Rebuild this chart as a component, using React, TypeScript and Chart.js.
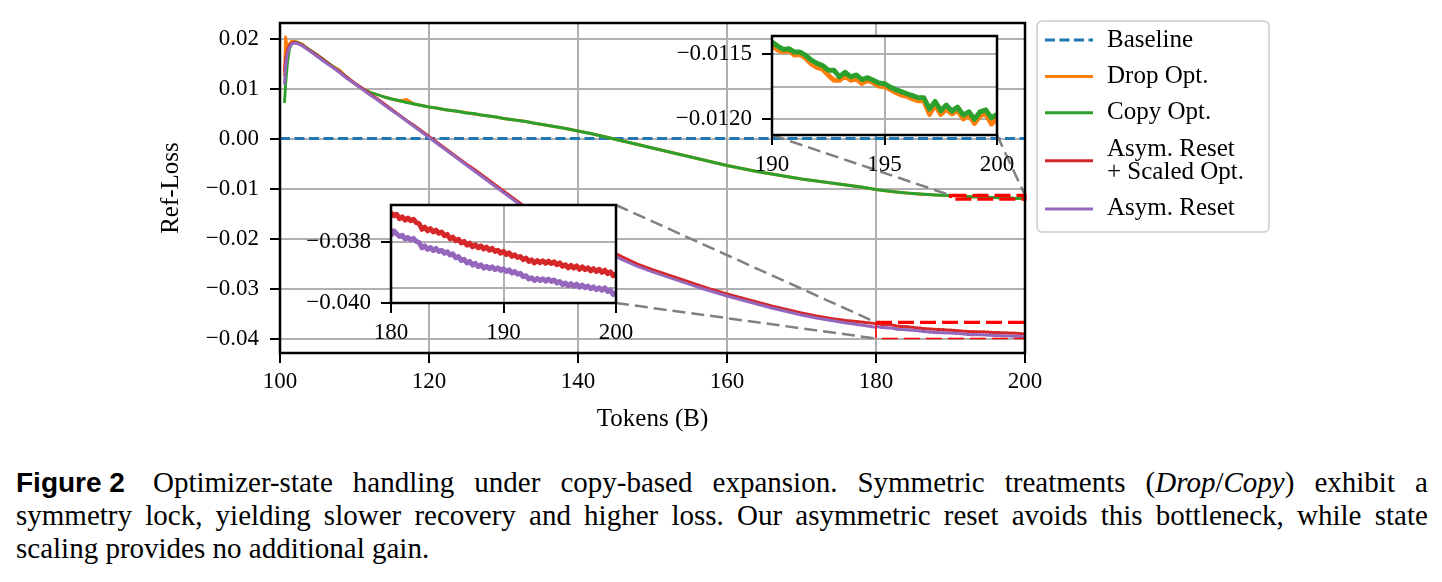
import React, { useEffect, useRef } from "react";
import { Chart, registerables } from "chart.js";

Chart.register(...registerables);

// ---------------------------------------------------------------------------
// Data: Ref-Loss against training tokens (billions)
// ---------------------------------------------------------------------------

// Shared sampling of the early / middle part of every run
const tokensHead = [
  100.6, 100.75, 101, 101.25, 101.5, 101.75, 102, 102.5, 103, 103.5,
  104, 105, 106, 107, 108, 109, 110, 111, 112, 113, 114, 115, 116, 117, 118, 119,
  120, 121, 122, 123, 124, 125, 126, 127, 128, 129, 130, 131, 132, 133, 134,
  136, 138, 140, 142, 144, 146, 148, 150, 152, 154, 156, 158,
  160, 162, 164, 166, 168, 170, 172, 174, 176, 178,
];

// Dense sampling of the last 20B tokens for the reset runs
const tokensTailReset = [
  180, 180.25, 180.5, 180.75, 181, 181.25, 181.5, 181.75,
  182, 182.25, 182.5, 182.75, 183, 183.25, 183.5, 183.75,
  184, 184.25, 184.5, 184.75, 185, 185.25, 185.5, 185.75,
  186, 186.25, 186.5, 186.75, 187, 187.25, 187.5, 187.75,
  188, 188.25, 188.5, 188.75, 189, 189.25, 189.5, 189.75,
  190, 190.25, 190.5, 190.75, 191, 191.25, 191.5, 191.75,
  192, 192.25, 192.5, 192.75, 193, 193.25, 193.5, 193.75,
  194, 194.25, 194.5, 194.75, 195, 195.25, 195.5, 195.75,
  196, 196.25, 196.5, 196.75, 197, 197.25, 197.5, 197.75,
  198, 198.25, 198.5, 198.75, 199, 199.25, 199.5, 199.75,
  200,
];

// Tail sampling for the symmetric (drop / copy) runs
const tokensTailOpt = [
  180, 181, 182, 183, 184, 185, 186, 187, 188, 189,
  190, 190.25, 190.5, 190.75, 191, 191.25, 191.5, 191.75,
  192, 192.25, 192.5, 192.75, 193, 193.25, 193.5, 193.75,
  194, 194.25, 194.5, 194.75, 195, 195.25, 195.5, 195.75,
  196, 196.25, 196.5, 196.75, 197, 197.25, 197.5, 197.75,
  198, 198.25, 198.5, 198.75, 199, 199.25, 199.5, 199.75,
  200,
];

const baselineTokens = [100, 200];
const baselineLoss = [0, 0];

const dropOptHead = [
  0.0125, 0.0203, 0.0180, 0.0189, 0.0194, 0.0194, 0.0194, 0.0192, 0.0189, 0.0182,
  0.0177, 0.0167, 0.0156, 0.0145, 0.0137, 0.0122, 0.0110, 0.0100, 0.0093, 0.0088, 0.0083, 0.0079, 0.0075, 0.0078, 0.0069, 0.0066,
  0.0063, 0.0061, 0.0058, 0.0056, 0.0054, 0.0052, 0.0049, 0.0047, 0.0045, 0.0043, 0.0040, 0.0038, 0.0036, 0.0034, 0.0031,
  0.0026, 0.0021, 0.0015, 0.0009, 0.0002, -0.0005, -0.0012, -0.0019, -0.0026, -0.0033, -0.0040, -0.0047,
  -0.0054, -0.0060, -0.0066, -0.0071, -0.0076, -0.0081, -0.0085, -0.0089, -0.0093, -0.0097,
];
const dropOptTail = [
  -0.01022, -0.01042, -0.01061, -0.01076, -0.01091, -0.01102, -0.01114, -0.01123, -0.01132, -0.01139,
  -0.011430, -0.011465, -0.011480, -0.011470, -0.011505, -0.011500, -0.011530, -0.011575,
  -0.011600, -0.011615, -0.011660, -0.011700, -0.011700, -0.011665, -0.011700, -0.011690,
  -0.011725, -0.011700, -0.011720, -0.011745, -0.011750, -0.011770, -0.011795, -0.011815,
  -0.011825, -0.011845, -0.011860, -0.011860, -0.011965, -0.011890, -0.011965, -0.011925,
  -0.011960, -0.011935, -0.012000, -0.011970, -0.012035, -0.011975, -0.011960, -0.012040,
  -0.012000,
];

const copyOptHead = [
  0.0071, 0.0108, 0.0152, 0.0178, 0.0188, 0.0192, 0.0193, 0.0191, 0.0187, 0.0182,
  0.0177, 0.0167, 0.0156, 0.0145, 0.0134, 0.0122, 0.0110, 0.0100, 0.0093, 0.0088, 0.0083, 0.0079, 0.0076, 0.0072, 0.0069, 0.0066,
  0.0063, 0.0061, 0.0058, 0.0056, 0.0054, 0.0051, 0.0050, 0.0047, 0.0045, 0.0043, 0.0040, 0.0038, 0.0036, 0.0034, 0.0031,
  0.0026, 0.0021, 0.0015, 0.0009, 0.0002, -0.0005, -0.0012, -0.0019, -0.0026, -0.0033, -0.0040, -0.0047,
  -0.0054, -0.0060, -0.0066, -0.0071, -0.0076, -0.0081, -0.0085, -0.0089, -0.0093, -0.0097,
];
const copyOptTail = [
  -0.01020, -0.01040, -0.01058, -0.01074, -0.01088, -0.01100, -0.01111, -0.01121, -0.01129, -0.01136,
  -0.011404, -0.011435, -0.011461, -0.011456, -0.011482, -0.011482, -0.011508, -0.011544,
  -0.011570, -0.011586, -0.011622, -0.011622, -0.011674, -0.011638, -0.011674, -0.011659,
  -0.011695, -0.011680, -0.011701, -0.011721, -0.011727, -0.011753, -0.011773, -0.011789,
  -0.011805, -0.011820, -0.011836, -0.011836, -0.011924, -0.011865, -0.011935, -0.011893,
  -0.011940, -0.011909, -0.011971, -0.011945, -0.012003, -0.011945, -0.011930, -0.011992,
  -0.011966,
];

const scaledResetHead = [
  0.0134, 0.0158, 0.0177, 0.0186, 0.0190, 0.0192, 0.0192, 0.0190, 0.0186, 0.0181,
  0.0176, 0.0166, 0.0155, 0.0144, 0.0133, 0.0122, 0.0111, 0.0101, 0.0090, 0.0080, 0.0069, 0.0058, 0.0047, 0.0036, 0.0026, 0.0015,
  0.0004, -0.0007, -0.0018, -0.0029, -0.0040, -0.0051, -0.0061, -0.0072, -0.0083, -0.0094, -0.0105, -0.0116, -0.0127, -0.0138, -0.0148,
  -0.0167, -0.0185, -0.0200, -0.0213, -0.0222, -0.0237, -0.0251, -0.0262, -0.0272, -0.0282, -0.0292, -0.0302,
  -0.0311, -0.0319, -0.0327, -0.0335, -0.0342, -0.0349, -0.0355, -0.0360, -0.0364, -0.0367,
];
const scaledResetTail = [
  -0.03702, -0.03712, -0.03708, -0.03722, -0.03716, -0.03727, -0.03720, -0.03729,
  -0.03724, -0.03735, -0.03738, -0.03757, -0.03750, -0.03762, -0.03755, -0.03766,
  -0.03760, -0.03770, -0.03766, -0.03778, -0.03774, -0.03788, -0.03783, -0.03795,
  -0.03790, -0.03802, -0.03797, -0.03809, -0.03803, -0.03815, -0.03808, -0.03818,
  -0.03812, -0.03822, -0.03816, -0.03826, -0.03820, -0.03830, -0.03826, -0.03836,
  -0.03830, -0.03840, -0.03835, -0.03846, -0.03841, -0.03850, -0.03847, -0.03857,
  -0.03852, -0.03863, -0.03858, -0.03868, -0.03860, -0.03867, -0.03861, -0.03869,
  -0.03862, -0.03870, -0.03864, -0.03874, -0.03868, -0.03879, -0.03874, -0.03884,
  -0.03876, -0.03885, -0.03878, -0.03889, -0.03881, -0.03890, -0.03884, -0.03894,
  -0.03887, -0.03896, -0.03889, -0.03899, -0.03892, -0.03903, -0.03897, -0.03910,
  -0.03904,
];

const asymResetHead = [
  0.0108, 0.0145, 0.0170, 0.0182, 0.0188, 0.0190, 0.0191, 0.0189, 0.0185, 0.0180,
  0.0175, 0.0164, 0.0153, 0.0143, 0.0132, 0.0120, 0.0110, 0.0099, 0.0088, 0.0078, 0.0067, 0.0056, 0.0046, 0.0035, 0.0024, 0.0013,
  0.0002, -0.0009, -0.0020, -0.0031, -0.0042, -0.0053, -0.0064, -0.0075, -0.0086, -0.0097, -0.0108, -0.0119, -0.0130, -0.0141, -0.0151,
  -0.0171, -0.0189, -0.0205, -0.0218, -0.0228, -0.0243, -0.0256, -0.0267, -0.0277, -0.0287, -0.0297, -0.0306,
  -0.0315, -0.0323, -0.0331, -0.0339, -0.0346, -0.0353, -0.0359, -0.0364, -0.0369, -0.0373,
];
const asymResetTail = [
  -0.03778, -0.03762, -0.03772, -0.03781, -0.03777, -0.03789, -0.03784, -0.03792,
  -0.03787, -0.03797, -0.03801, -0.03818, -0.03812, -0.03823, -0.03817, -0.03827,
  -0.03820, -0.03830, -0.03826, -0.03836, -0.03831, -0.03842, -0.03838, -0.03851,
  -0.03847, -0.03860, -0.03856, -0.03868, -0.03863, -0.03875, -0.03869, -0.03880,
  -0.03874, -0.03885, -0.03879, -0.03887, -0.03881, -0.03890, -0.03884, -0.03893,
  -0.03887, -0.03896, -0.03891, -0.03901, -0.03896, -0.03905, -0.03902, -0.03913,
  -0.03910, -0.03921, -0.03917, -0.03926, -0.03919, -0.03926, -0.03920, -0.03928,
  -0.03921, -0.03929, -0.03924, -0.03934, -0.03929, -0.03939, -0.03934, -0.03943,
  -0.03936, -0.03945, -0.03938, -0.03948, -0.03941, -0.03950, -0.03944, -0.03953,
  -0.03947, -0.03956, -0.03950, -0.03958, -0.03950, -0.03962, -0.03957, -0.03972,
  -0.03966,
];

// Axis ticks
const xTicksMain = [100, 120, 140, 160, 180, 200];
const yTicksMain = [-0.04, -0.03, -0.02, -0.01, 0, 0.01, 0.02];
const xTicksCopyInset = [190, 195, 200];
const yTicksCopyInset = [-0.012, -0.0115];
const yGridCopyInset = [-0.01175];
const xTicksResetInset = [180, 190, 200];
const yTicksResetInset = [-0.04, -0.038];
const yGridResetInset = [-0.0395];

// Axis limits
const mainXRange = [100, 200];
const mainYRange = [-0.0429, 0.0231];
const copyInsetXRange = [190, 200];
const copyInsetYRange = [-0.012125, -0.011357];
const resetInsetXRange = [180, 200];
const resetInsetYRange = [-0.04, -0.03677];

// ---------------------------------------------------------------------------
// Layout and styling
// ---------------------------------------------------------------------------

const SERIF = '"Liberation Serif", "Times New Roman", serif';
const SANS = '"Liberation Sans", Arial, sans-serif';
const GRID_COLOR = "#b0b0b0";
const TICK_FONT = { family: SERIF, size: 23 };
const LABEL_FONT = { family: SERIF, size: 25 };

const FIGURE = { width: 1442, height: 582 };
const MAIN = { height: 440, left: 280, top: 23, right: 1025, bottom: 353 };
const COPY_INSET = { left: 772, top: 36, width: 225, height: 99 };
const RESET_INSET = { left: 391, top: 205, width: 225, height: 98 };
const INSET_PAD = { left: 130, top: 14, right: 26, bottom: 48 };

const LEGEND = {
  left: 1037, top: 21, width: 232, height: 211,
  sampleStart: 1045, sampleEnd: 1093, textX: 1107,
  firstY: 40, rowGap: 36.4, lineGap: 23.3,
};

const CAPTION = { left: 16, top: 466, width: 1412, lineHeight: 33, fontSize: 29, labelSize: 28 };

const COLORS = {
  baseline: "#1f77b4",
  drop: "#ff7f0e",
  copy: "#2ca02c",
  scaled: "#d62728",
  asym: "#9467bd",
};

const pts = (xs: number[], ys: number[]) => xs.map((x, i) => ({ x, y: ys[i] }));

function tickLabel(digits: number) {
  return (value: number | string) => {
    const v = Number(value);
    return (Math.abs(v) < 1e-12 ? 0 : v).toFixed(digits).replace("-", "\u2212");
  };
}

// Pin an axis box to a fixed thickness so the plot area lands where intended
function lockAxis(size: number) {
  return (scale: any) => {
    if (scale.isHorizontal()) scale.height = size;
    else scale.width = size;
    scale.paddingLeft = 0;
    scale.paddingRight = 0;
    scale.paddingTop = 0;
    scale.paddingBottom = 0;
  };
}

function strokeSegment(ctx: CanvasRenderingContext2D, x0: number, y0: number, x1: number, y1: number) {
  ctx.beginPath();
  ctx.moveTo(x0, y0);
  ctx.lineTo(x1, y1);
  ctx.stroke();
}

// Zoom markers, connectors, frame and legend of the main axes
const mainOverlay = {
  id: "mainOverlay",
  afterDatasetsDraw(chart: any) {
    const { ctx, chartArea: a, scales } = chart;
    const sx = scales.x;
    const sy = scales.y;
    ctx.save();

    const cx0 = sx.getPixelForValue(copyInsetXRange[0]);
    const cx1 = sx.getPixelForValue(copyInsetXRange[1]);
    const cyTop = sy.getPixelForValue(copyInsetYRange[1]);
    const cyBot = sy.getPixelForValue(copyInsetYRange[0]);
    const rx0 = sx.getPixelForValue(resetInsetXRange[0]);
    const rx1 = sx.getPixelForValue(resetInsetXRange[1]);
    const ryTop = sy.getPixelForValue(resetInsetYRange[1]);
    const ryBot = sy.getPixelForValue(resetInsetYRange[0]);

    // connector lines from inset corners to the zoomed regions
    ctx.strokeStyle = "#808080";
    ctx.lineWidth = 2.5;
    ctx.setLineDash([13, 6]);
    const cb = COPY_INSET.top + COPY_INSET.height;
    strokeSegment(ctx, COPY_INSET.left, cb, cx0, cyTop);
    strokeSegment(ctx, COPY_INSET.left + COPY_INSET.width, cb, cx1, cyTop);
    const rr = RESET_INSET.left + RESET_INSET.width;
    strokeSegment(ctx, rr, RESET_INSET.top, rx0, ryTop);
    strokeSegment(ctx, rr, RESET_INSET.top + RESET_INSET.height, rx0, ryBot);

    // zoomed regions
    ctx.strokeStyle = "#ff0000";
    ctx.setLineDash([16, 6]);
    ctx.lineWidth = 3.2;
    ctx.strokeRect(cx0, cyTop, cx1 - cx0, cyBot - cyTop);
    strokeSegment(ctx, rx0, ryTop, rx1, ryTop);
    ctx.lineWidth = 1.5;
    ctx.beginPath();
    ctx.moveTo(rx0, ryTop);
    ctx.lineTo(rx0, ryBot);
    ctx.lineTo(rx1, ryBot);
    ctx.stroke();

    // axes frame
    ctx.setLineDash([]);
    ctx.strokeStyle = "#000";
    ctx.lineWidth = 2.5;
    ctx.strokeRect(a.left, a.top, a.right - a.left, a.bottom - a.top);
    ctx.restore();
  },
  afterDraw(chart: any) {
    const { ctx } = chart;
    ctx.save();
    ctx.beginPath();
    ctx.roundRect(LEGEND.left, LEGEND.top, LEGEND.width, LEGEND.height, 5);
    ctx.fillStyle = "rgba(255,255,255,0.85)";
    ctx.fill();
    ctx.strokeStyle = "#cccccc";
    ctx.lineWidth = 1.5;
    ctx.stroke();

    ctx.font = `${LABEL_FONT.size}px ${SERIF}`;
    ctx.textBaseline = "middle";
    ctx.textAlign = "left";
    let y = LEGEND.firstY;
    chart.data.datasets.forEach((ds: any) => {
      const lines = String(ds.label).split("\n");
      const mid = y + ((lines.length - 1) * LEGEND.lineGap) / 2;
      ctx.strokeStyle = ds.borderColor;
      ctx.lineWidth = 3;
      ctx.setLineDash(ds.borderDash || []);
      ctx.beginPath();
      ctx.moveTo(LEGEND.sampleStart, mid);
      ctx.lineTo(LEGEND.sampleEnd, mid);
      ctx.stroke();
      ctx.setLineDash([]);
      ctx.fillStyle = "#000";
      lines.forEach((t, i) => ctx.fillText(t, LEGEND.textX, y + i * LEGEND.lineGap));
      y += (lines.length - 1) * LEGEND.lineGap + LEGEND.rowGap;
    });
    ctx.restore();
  },
};

// White plot background and black frame for the zoom insets
const insetFrame = {
  id: "insetFrame",
  beforeDraw(chart: any) {
    const { ctx, chartArea: a } = chart;
    ctx.save();
    ctx.fillStyle = "#fff";
    ctx.fillRect(a.left, a.top, a.right - a.left, a.bottom - a.top);
    ctx.restore();
  },
  afterDatasetsDraw(chart: any) {
    const { ctx, chartArea: a } = chart;
    ctx.save();
    ctx.strokeStyle = "#000";
    ctx.lineWidth = 2.5;
    ctx.strokeRect(a.left, a.top, a.right - a.left, a.bottom - a.top);
    ctx.restore();
  },
};

function lineDataset(label: string, color: string, data: any[], order: number, width: number, dash?: number[]) {
  return {
    label,
    data,
    borderColor: color,
    backgroundColor: color,
    borderWidth: width,
    borderDash: dash,
    borderJoinStyle: "round",
    pointRadius: 0,
    tension: 0,
    fill: false,
    order,
  };
}

function axis(opts: {
  range: number[];
  ticks: number[];
  gridOnly?: number[];
  fmt: (v: any) => string;
  size: number;
  padding: number;
  title?: { text: string; padding: any };
}) {
  const gridOnly = opts.gridOnly || [];
  return {
    type: "linear",
    min: opts.range[0],
    max: opts.range[1],
    afterBuildTicks: (s: any) => {
      s.ticks = [...opts.ticks, ...gridOnly].sort((a, b) => a - b).map((value) => ({ value }));
    },
    afterFit: lockAxis(opts.size),
    border: { display: false },
    grid: {
      color: GRID_COLOR,
      lineWidth: 2,
      tickLength: 10,
      tickWidth: 2,
      tickColor: (c: any) => (c.tick && gridOnly.includes(c.tick.value) ? "rgba(0,0,0,0)" : "#000"),
    },
    ticks: {
      color: "#000",
      font: TICK_FONT,
      padding: opts.padding,
      maxRotation: 0,
      autoSkip: false,
      callback: (v: any) => (gridOnly.includes(Number(v)) ? "" : opts.fmt(v)),
    },
    title: opts.title
      ? { display: true, text: opts.title.text, color: "#000", font: LABEL_FONT, padding: opts.title.padding }
      : { display: false },
  };
}

const baseOptions = {
  animation: false,
  responsive: false,
  events: [],
  plugins: { legend: { display: false }, tooltip: { enabled: false } },
};

function mainConfig(): any {
  return {
    type: "line",
    data: {
      datasets: [
        lineDataset("Baseline", COLORS.baseline, pts(baselineTokens, baselineLoss), 4, 3, [10, 4.5]),
        lineDataset("Drop Opt.", COLORS.drop, [...pts(tokensHead, dropOptHead), ...pts(tokensTailOpt, dropOptTail)], 3, 2.9),
        lineDataset("Copy Opt.", COLORS.copy, [...pts(tokensHead, copyOptHead), ...pts(tokensTailOpt, copyOptTail)], 2, 2.9),
        lineDataset("Asym. Reset\n+ Scaled Opt.", COLORS.scaled, [...pts(tokensHead, scaledResetHead), ...pts(tokensTailReset, scaledResetTail)], 1, 2.9),
        lineDataset("Asym. Reset", COLORS.asym, [...pts(tokensHead, asymResetHead), ...pts(tokensTailReset, asymResetTail)], 0, 2.9),
      ],
    },
    options: {
      ...baseOptions,
      layout: { padding: { left: 0, top: MAIN.top, right: FIGURE.width - MAIN.right, bottom: 0 } },
      scales: {
        x: axis({
          range: mainXRange, ticks: xTicksMain, fmt: (v) => String(v),
          size: MAIN.height - MAIN.bottom, padding: 5,
          title: { text: "Tokens (B)", padding: { top: 0, bottom: 6 } },
        }),
        y: axis({
          range: mainYRange, ticks: yTicksMain, fmt: tickLabel(2),
          size: MAIN.left, padding: 11,
          title: { text: "Ref-Loss", padding: { top: 156, bottom: 0 } },
        }),
      },
    },
    plugins: [mainOverlay],
  };
}

function insetConfig(datasets: any[], xr: number[], yr: number[], xt: number[], yt: number[], yg: number[], digits: number): any {
  return {
    type: "line",
    data: { datasets },
    options: {
      ...baseOptions,
      layout: { padding: { left: 0, top: INSET_PAD.top, right: INSET_PAD.right, bottom: 0 } },
      scales: {
        x: axis({ range: xr, ticks: xt, fmt: (v) => String(v), size: INSET_PAD.bottom, padding: 6 }),
        y: axis({ range: yr, ticks: yt, gridOnly: yg, fmt: tickLabel(digits), size: INSET_PAD.left, padding: 10 }),
      },
    },
    plugins: [insetFrame],
  };
}

function insetStyle(box: { left: number; top: number; width: number; height: number }) {
  const w = INSET_PAD.left + box.width + INSET_PAD.right;
  const h = INSET_PAD.top + box.height + INSET_PAD.bottom;
  return {
    w,
    h,
    style: {
      position: "absolute" as const,
      left: box.left - INSET_PAD.left,
      top: box.top - INSET_PAD.top,
      width: w,
      height: h,
    },
  };
}

function Words({ text }: { text: string }) {
  return (
    <>
      {text.split(" ").map((w, i) => (
        <span key={i}>{w}</span>
      ))}
    </>
  );
}

export default function App() {
  const mainRef = useRef<HTMLCanvasElement>(null);
  const copyRef = useRef<HTMLCanvasElement>(null);
  const resetRef = useRef<HTMLCanvasElement>(null);

  useEffect(() => {
    const charts: Chart[] = [];
    charts.push(new Chart(mainRef.current!, mainConfig()));
    charts.push(
      new Chart(
        copyRef.current!,
        insetConfig(
          [
            lineDataset("Drop Opt.", COLORS.drop, pts(tokensTailOpt, dropOptTail), 1, 5),
            lineDataset("Copy Opt.", COLORS.copy, pts(tokensTailOpt, copyOptTail), 0, 5),
          ],
          copyInsetXRange, copyInsetYRange, xTicksCopyInset, yTicksCopyInset, yGridCopyInset, 4,
        ),
      ),
    );
    charts.push(
      new Chart(
        resetRef.current!,
        insetConfig(
          [
            lineDataset("Asym. Reset\n+ Scaled Opt.", COLORS.scaled, pts(tokensTailReset, scaledResetTail), 1, 5),
            lineDataset("Asym. Reset", COLORS.asym, pts(tokensTailReset, asymResetTail), 0, 5),
          ],
          resetInsetXRange, resetInsetYRange, xTicksResetInset, yTicksResetInset, yGridResetInset, 3,
        ),
      ),
    );
    return () => charts.forEach((c) => c.destroy());
  }, []);

  const copyBox = insetStyle(COPY_INSET);
  const resetBox = insetStyle(RESET_INSET);
  const justified: React.CSSProperties = {
    display: "flex",
    justifyContent: "space-between",
    alignItems: "center",
    height: CAPTION.lineHeight,
    whiteSpace: "nowrap",
  };

  return (
    <div
      style={{
        position: "absolute",
        left: 0,
        top: 0,
        width: FIGURE.width,
        height: FIGURE.height,
        background: "#fff",
        overflow: "hidden",
      }}
    >
      <canvas
        ref={mainRef}
        width={FIGURE.width}
        height={MAIN.height}
        style={{ position: "absolute", left: 0, top: 0, width: FIGURE.width, height: MAIN.height }}
      />
      <canvas ref={resetRef} width={resetBox.w} height={resetBox.h} style={resetBox.style} />
      <canvas ref={copyRef} width={copyBox.w} height={copyBox.h} style={copyBox.style} />

      <div
        style={{
          position: "absolute",
          left: CAPTION.left,
          top: CAPTION.top,
          width: CAPTION.width,
          fontFamily: SERIF,
          fontSize: CAPTION.fontSize,
          lineHeight: `${CAPTION.lineHeight}px`,
          color: "#000",
        }}
      >
        <div style={justified}>
          <span style={{ fontFamily: SANS, fontWeight: "bold", fontSize: CAPTION.labelSize, marginRight: 8 }}>Figure 2</span>
          <Words text="Optimizer-state handling under copy-based expansion. Symmetric treatments" />
          <span>
            (<i>Drop</i>/<i>Copy</i>)
          </span>
          <Words text="exhibit a" />
        </div>
        <div style={justified}>
          <Words text="symmetry lock, yielding slower recovery and higher loss. Our asymmetric reset avoids this bottleneck, while state" />
        </div>
        <div style={{ height: CAPTION.lineHeight, whiteSpace: "nowrap" }}>scaling provides no additional gain.</div>
      </div>
    </div>
  );
}
